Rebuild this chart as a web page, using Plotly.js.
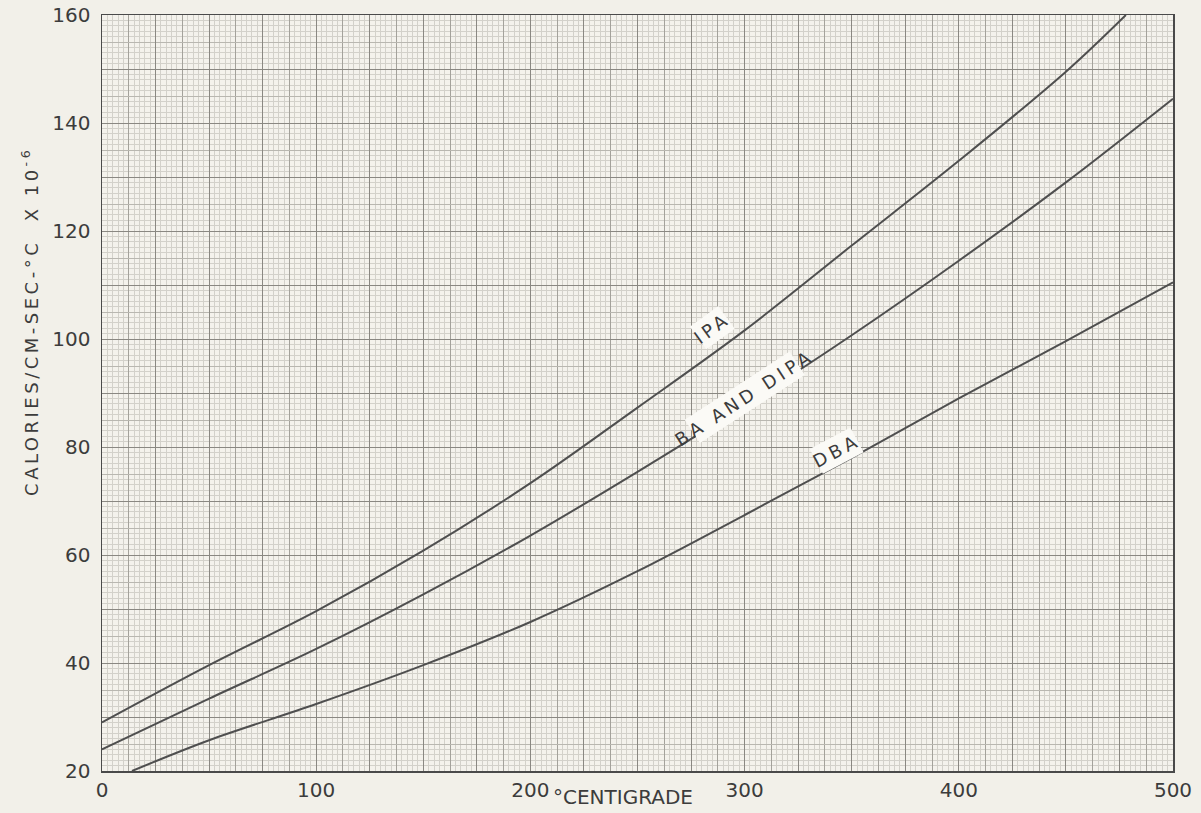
<!DOCTYPE html>
<html>
<head>
<meta charset="utf-8">
<script src="https://cdn.plot.ly/plotly-3.0.1.min.js"></script>
<style>
  html, body { margin: 0; padding: 0; background: #f2f0e9; }
  #chart { width: 1201px; height: 813px; }
  .annotation[data-index="0"] text { letter-spacing: 3.5px; }
  .annotation[data-index="2"] text,
  .annotation[data-index="3"] text,
  .annotation[data-index="4"] text { letter-spacing: 4px; }
</style>
</head>
<body>
<div id="chart"></div>
<script>
// ---- data ----
const ipaX = [0, 50, 100, 150, 200, 250, 300, 350, 400, 450, 478];
const ipaY = [29, 39.6, 49.6, 60.8, 73.3, 87.3, 101.6, 117.3, 133, 149.5, 160];

const baX = [0, 50, 100, 150, 200, 250, 300, 350, 400, 450, 500];
const baY = [24, 33.4, 42.6, 52.7, 63.6, 75.4, 87.7, 100.7, 114.5, 129, 144.5];

const dbaX = [14, 50, 100, 150, 200, 250, 300, 350, 400, 450, 500];
const dbaY = [20, 25.7, 32.4, 39.6, 47.6, 57, 67.4, 78, 89, 99.6, 110.5];

const curveLabels = ['IPA', 'BA AND DIPA', 'DBA'];
const xTickVals = [0, 100, 200, 300, 400, 500];
const yTickVals = [20, 40, 60, 80, 100, 120, 140, 160];

const xTitle = '°CENTIGRADE';
const yTitle = 'CALORIES/CM-SEC-°C  X 10<sup>-6</sup>';

// ---- styling ----
const lineColor = '#4f4f4f';
const inkColor = '#3c3c3c';
const font = 'DejaVu Sans, Liberation Sans, sans-serif';

function curve(x, y, name) {
  return {
    x: x, y: y, name: name, type: 'scatter', mode: 'lines',
    line: { color: lineColor, width: 2, shape: 'spline', smoothing: 1 },
    hoverinfo: 'skip', showlegend: false, xaxis: 'x', yaxis: 'y'
  };
}

const data = [
  // dummy traces so that the overlay grid axes are created
  { x: [null], y: [null], xaxis: 'x2', yaxis: 'y2', type: 'scatter', mode: 'lines', showlegend: false, hoverinfo: 'skip' },
  { x: [null], y: [null], xaxis: 'x3', yaxis: 'y3', type: 'scatter', mode: 'lines', showlegend: false, hoverinfo: 'skip' },
  curve(ipaX, ipaY, curveLabels[0]),
  curve(baX, baY, curveLabels[1]),
  curve(dbaX, dbaY, curveLabels[2])
];

const xr = [0, 500], yr = [20, 160];
const tickFont = { family: font, size: 20, color: inkColor };

const layout = {
  width: 1201, height: 813,
  margin: { l: 102, r: 28, t: 15, b: 42 },
  paper_bgcolor: '#f2f0e9',
  plot_bgcolor: '#f4f2ec',
  showlegend: false,
  xaxis: {
    range: xr, tickvals: xTickVals, ticks: '', tickfont: tickFont,
    showgrid: true, gridcolor: '#7c7a74', gridwidth: 1,
    minor: { dtick: 2.5, tick0: 0, showgrid: true, gridcolor: '#d3d1ca', gridwidth: 1 },
    showline: true, mirror: true, linecolor: '#4a4a4a', linewidth: 1.5,
    zeroline: false, fixedrange: true
  },
  yaxis: {
    range: yr, tickvals: yTickVals, ticks: '', tickfont: tickFont,
    ticklabelstandoff: 6,
    showgrid: true, gridcolor: '#7c7a74', gridwidth: 1,
    minor: { dtick: 1, tick0: 20, showgrid: true, gridcolor: '#d3d1ca', gridwidth: 1 },
    showline: true, mirror: true, linecolor: '#4a4a4a', linewidth: 1.5,
    zeroline: false, fixedrange: true
  },
  xaxis2: { overlaying: 'x', anchor: 'y2', range: xr, tick0: 0, dtick: 12.5,
    showgrid: true, gridcolor: '#a4a29b', gridwidth: 1, showticklabels: false,
    ticks: '', showline: false, zeroline: false, fixedrange: true },
  yaxis2: { overlaying: 'y', anchor: 'x2', range: yr, tick0: 20, dtick: 5,
    showgrid: true, gridcolor: '#b9b7b0', gridwidth: 1, showticklabels: false,
    ticks: '', showline: false, zeroline: false, fixedrange: true },
  xaxis3: { overlaying: 'x', anchor: 'y3', range: xr, tick0: 0, dtick: 25,
    showgrid: true, gridcolor: '#8a8882', gridwidth: 1, showticklabels: false,
    ticks: '', showline: false, zeroline: false, fixedrange: true },
  yaxis3: { overlaying: 'y', anchor: 'x3', range: yr, tick0: 20, dtick: 10,
    showgrid: true, gridcolor: '#8a8882', gridwidth: 1, showticklabels: false,
    ticks: '', showline: false, zeroline: false, fixedrange: true },
  annotations: [
    { text: yTitle, xref: 'paper', yref: 'paper', x: -0.067, y: 0.595,
      textangle: -90, showarrow: false, xanchor: 'center', yanchor: 'middle',
      font: { family: font, size: 18, color: inkColor } },
    { text: xTitle, xref: 'paper', yref: 'paper', x: 0.486, y: -0.034,
      showarrow: false, xanchor: 'center', yanchor: 'middle',
      font: { family: font, size: 20, color: inkColor } },
    { text: curveLabels[0], xref: 'x', yref: 'y', x: 285, y: 102.2, textangle: -36,
      showarrow: false, bgcolor: '#fbfaf6', borderpad: 3,
      font: { family: font, size: 18, color: inkColor } },
    { text: curveLabels[1], xref: 'x', yref: 'y', x: 300, y: 89.1, textangle: -33,
      showarrow: false, bgcolor: '#fbfaf6', borderpad: 3,
      font: { family: font, size: 18, color: inkColor } },
    { text: curveLabels[2], xref: 'x', yref: 'y', x: 343, y: 79.4, textangle: -28,
      showarrow: false, bgcolor: '#fbfaf6', borderpad: 3,
      font: { family: font, size: 18, color: inkColor } }
  ]
};

Plotly.newPlot('chart', data, layout, { staticPlot: true, displayModeBar: false });
</script>
</body>
</html>
